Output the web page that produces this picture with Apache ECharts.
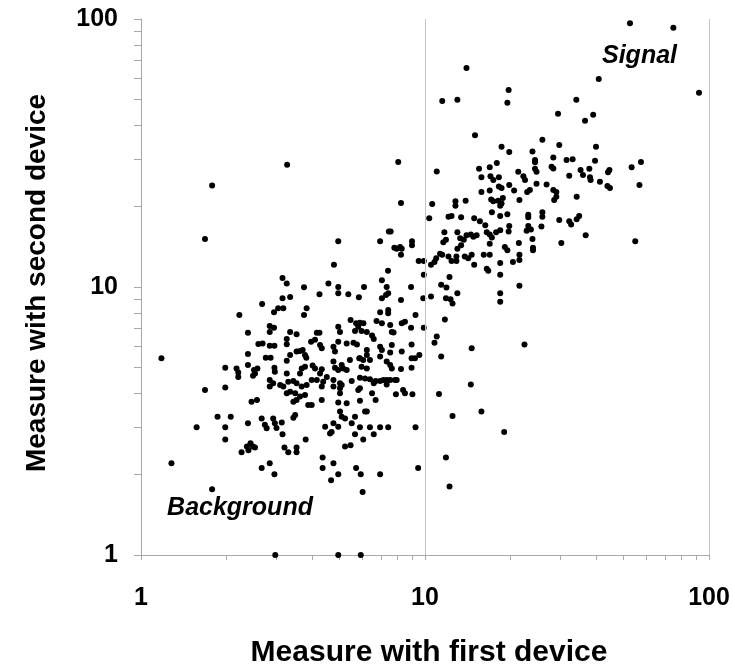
<!DOCTYPE html>
<html>
<head>
<meta charset="utf-8">
<script src="https://cdn.jsdelivr.net/npm/echarts@6/dist/echarts.min.js"></script>
<style>
html,body{margin:0;padding:0;background:#fff;}
#chart{width:735px;height:669px;}
</style>
</head>
<body>
<div id="chart"></div>
<script>
// Axis ticks and labels
const tickValues = [1,2,3,4,5,6,7,8,9,10,20,30,40,50,60,70,80,90,100];
const labelValues = [1,10,100];
const gridLineValues = [10,100];

// Points: [first device, second device]
const upperSparse = [
  [1.78,23.9],[3.27,28.6],[8.05,29.3],
  [14.0,65.6],[19.7,54.3],[11.5,49.4],[13.0,50.0],[19.5,48.7],[15.0,36.8],[18.6,33.4],[19.8,31.9],
  [11.0,27.0],[17.9,29.0],[16.9,28.0],[15.5,27.6],[15.8,25.7],[17.0,25.9],[17.4,25.1],[18.2,25.7],
  [18.2,23.7],[18.6,23.4],[15.8,22.6],[16.9,22.9],[19.8,24.0],[20.6,22.9],[21.3,26.9]
];
const signalTop = [
  [52.7,96.4],[74.9,92.8],[92.2,53.1],[40.9,59.7],[34.1,50.0],[29.4,44.3],[39.1,43.9],[36.6,41.7],
  [25.9,35.4],[29.7,33.9],[40.0,33.4],[23.9,32.0],[24.4,29.8],[24.4,29.2],[28.3,30.4],[31.5,29.8],
  [33.1,30.0],[39.7,29.6],[57.6,29.3],[53.4,28.0],[24.4,27.6],[24.7,26.9],[27.9,28.1],[28.3,27.7],
  [35.3,27.3],[36.0,26.2],[37.9,27.6],[38.1,25.7],[38.3,25.1],[32.2,26.0],[44.6,27.3],[44.1,26.8],
  [56.9,24.0],[41.3,24.7],[43.9,23.8],[44.8,23.4],[22.2,25.9],[22.5,25.1],[24.7,24.3],[26.8,24.1],
  [28.3,23.0],[29.0,22.6],[23.4,23.0],[22.9,22.6]
];
const signalRight = [
  [28.5,21.1],[29.0,21.7],[34.2,21.7],[23.1,18.6],[23.1,18.2],[25.9,19.0],[25.9,18.3],[29.7,17.8],
  [32.2,17.6],[32.7,17.1],[34.2,17.9],[34.9,18.4],[23.1,16.9],[22.8,16.2],[23.6,16.4],[25.7,16.8],
  [23.9,15.1],[24.0,14.0],[24.0,13.7],[36.8,15.6],[30.2,14.6],[55.0,14.8]
];
const leftMiddle = [
  [1.68,15.1],[1.18,5.42],[3.15,10.8],[3.26,10.3],[3.75,9.97],[4.25,9.39],[3.15,9.08],[3.35,9.18],
  [2.67,8.64],[3.04,8.33],[3.17,8.33],[2.94,8.05],[3.83,8.33],[3.75,7.86],[2.22,7.86],[2.84,7.15],
  [2.94,7.05],[2.38,6.75],[2.84,6.80],[3.35,6.80],[3.53,6.66],[4.16,6.75],[4.25,6.75],[3.26,6.40],
  [3.26,6.11],[2.59,6.13],[2.68,6.16],[2.84,6.04],[2.95,6.04],[3.97,6.25],[4.10,6.35],[4.27,6.08],
  [4.33,5.91],[2.38,5.62],[3.63,5.77],[3.71,5.82],[3.78,5.57],[3.82,5.45],[3.53,5.74],[3.35,5.57],
  [3.26,5.31],[2.75,5.45],[2.86,5.45],[2.38,5.12],[1.98,5.0],[2.17,4.97],[2.20,4.80],[2.50,4.90],
  [2.57,4.97],[2.52,4.76],[2.95,5.0],[2.96,4.83],[3.26,4.76],[3.68,4.97],[3.78,5.04],[3.63,4.76],
  [4.02,5.09],[4.10,4.97],[4.27,4.76],[4.33,4.93]
];
const centerUpper = [
  [8.23,20.6],[10.6,20.4],[12.8,20.9],[12.8,20.1],[13.9,21.0],[17.1,21.2],[17.4,20.9],[18.1,21.0],
  [18.8,21.5],[18.6,20.5],[18.4,20.1],[21.5,21.1],
  [10.35,18.05],[12.1,18.3],[12.4,18.4],[13.4,18.2],[14.9,18.05],[15.6,17.6],[16.3,17.0],[17.2,19.0],
  [18.4,18.4],[19.5,18.7],[19.8,16.9],
  [7.46,16.1],[7.57,16.1],[6.95,14.8],[4.95,14.8],[9.0,14.8],[9.0,14.3],[11.7,16.0],[11.85,15.0],
  [11.6,14.7],[13.0,16.0],[13.3,15.2],[14.0,15.6],[14.5,15.7],[14.8,15.4],[15.2,15.6],[13.7,15.0],
  [13.4,14.3],[13.0,13.9],[16.5,16.0],[16.9,15.7],[17.2,15.3],[17.8,16.0],[18.4,16.3],[19.7,16.1],
  [21.4,14.6],[16.9,14.5],[19.1,14.1],[19.5,13.7],
  [8.17,14.1],[8.28,13.9],[8.23,13.2],[7.8,14.0],[7.95,13.9],[4.78,12.1],[7.41,11.5],[9.5,12.5],
  [9.9,12.5],[9.9,11.1],[11.3,13.3],[11.5,13.2],[10.95,12.8],[10.8,12.4],[10.5,12.1],[12.1,13.0],
  [12.4,12.5],[12.9,13.0],[12.9,12.5],[13.8,13.0],[14.2,12.8],[14.6,13.2],[14.9,12.1],[16.1,13.2],
  [16.9,13.2],[16.5,11.7],[16.7,11.5],[18.4,12.3],[18.4,11.1],[20.4,12.4],[21.5,13.2],[21.5,12.6],
  [12.2,10.9]
];
const centerMiddle = [
  [4.57,10.3],[4.95,10.0],[4.95,9.47],[5.37,9.39],[5.85,9.15],[6.1,10.0],[7.05,10.6],[7.33,10.0],
  [7.42,9.47],[7.29,9.34],[7.05,9.08],[8.23,8.94],[8.93,10.0],[9.86,9.08],[10.5,9.21],[11.4,10.2],
  [11.9,9.95],[11.85,9.08],[12.3,9.0],[12.5,8.68],[13.0,9.47],[18.4,9.47],[18.4,8.81],[21.5,10.1],
  [6.95,8.05],[7.42,8.21],[7.42,7.98],[9.26,7.86],[5.47,7.53],[5.72,7.32],[5.9,7.36],[6.07,7.32],
  [5.82,7.10],[5.67,6.85],[5.98,6.85],[6.24,6.8],[6.51,6.59],[6.6,6.4],[6.75,7.47],[7.05,7.32],
  [7.54,7.22],[7.64,6.8],[7.75,6.77],[8.28,7.32],[8.5,7.42],[8.93,7.05],[9.9,7.05],[4.95,7.10],
  [5.02,6.80],[11.75,7.57],[11.0,6.53],[10.8,6.2],[14.6,5.91],[11.4,5.5],[22.4,6.1],
  [4.76,5.98],[4.82,5.74],[4.95,6.25],[5.3,6.16],[5.6,6.2],[5.76,6.1],[6.24,5.82],[6.24,5.57],
  [6.06,5.34],[5.87,5.42],[6.95,5.98],[7.05,5.82],[7.64,6.08],[7.54,5.7],[8.28,5.74],[8.97,6.1],
  [9.55,5.57],[8.97,5.42],[9.22,5.42],[6.95,5.5],[7.33,5.27],[7.54,5.12],[7.64,4.97],[8.23,4.94],
  [8.97,5.0],[4.76,5.27],[4.82,5.0],[4.95,4.9],[5.09,5.12],[5.15,4.97],[5.3,4.9],[5.44,5.34],
  [5.9,5.42],[5.98,5.04],[6.24,4.97],[6.4,5.34]
];
const leftLower = [
  [1.68,4.13],[1.98,4.22],[2.2,4.62],[2.48,4.66],[2.84,4.5],[2.84,4.25],[2.92,4.37],[3.09,4.31],
  [3.17,4.25],[3.30,4.43],[3.44,4.46],[3.53,4.37],[3.68,4.25],[3.83,4.31],[3.99,4.5],[4.16,4.5],
  [4.38,4.43],[2.45,3.73],[2.56,3.79],[3.26,4.01],[3.35,4.07],[3.49,4.01],[3.63,3.9],[3.78,3.95],
  [3.53,3.79],[3.44,3.73],[3.88,3.63],[3.99,3.63],[4.33,3.79],[3.49,3.33],[3.44,3.25],[1.86,3.28],
  [2.07,3.28],[1.57,3.0],[1.98,3.0],[1.98,2.70],[2.38,3.10],[2.66,3.23],[2.73,3.06],[2.77,2.97],
  [2.92,3.23],[2.96,3.1],[3.0,2.98],[3.13,3.12],[3.15,2.82],[2.26,2.42],[2.36,2.54],[2.39,2.46],
  [2.43,2.61],[2.48,2.54],[2.52,2.52],[3.2,2.52],[3.3,2.42],[3.53,2.52],[3.53,2.42],[3.8,2.70],
  [1.28,2.20],[2.66,2.11],[2.84,2.20],[2.95,2.0],[1.78,1.76],[2.97,1.0]
];
const centerLower = [
  [4.51,4.62],[4.76,4.5],[4.76,4.25],[5.02,4.37],[5.02,4.19],[5.02,4.01],[5.09,4.31],[5.52,4.46],
  [5.9,4.59],[5.9,4.19],[5.82,4.13],[6.15,4.56],[6.4,4.53],[6.6,4.37],[6.7,4.46],[6.95,4.46],
  [7.14,4.5],[7.33,4.5],[7.54,4.5],[7.84,4.5],[7.95,4.5],[7.33,4.33],[6.51,4.01],[6.7,3.79],
  [7.9,3.98],[8.37,4.13],[8.5,4.01],[9.03,3.98],[4.33,4.25],
  [4.95,3.71],[5.3,3.68],[5.9,3.76],[6.15,3.43],[6.24,3.43],[5.02,3.43],[5.09,3.28],[5.23,3.23],
  [5.67,3.28],[5.52,3.1],[4.45,3.01],[4.76,3.1],[4.95,3.01],[4.63,2.84],[4.69,2.88],[5.9,3.0],
  [6.4,3.0],[6.95,3.0],[7.42,3.0],[9.26,3.0],[5.67,2.82],[6.06,2.70],[6.6,2.82],[5.23,2.54],
  [5.47,2.57],
  [11.2,3.99],[14.5,4.33],[12.5,3.3],[15.8,3.43],[19.0,2.88],[11.85,2.31],[12.2,1.80],
  [4.36,2.31],[4.36,2.11],[4.76,2.2],[4.95,2.0],[4.67,1.9],[5.72,2.11],[5.94,2.0],[6.95,2.0],
  [9.46,2.11],[6.03,1.72],[4.95,1.0],[5.94,1.0]
];

const allPoints = [].concat(upperSparse, signalTop, signalRight, leftMiddle, centerUpper,
  centerMiddle, leftLower, centerLower);

const FONT = "'Liberation Sans', Arial, sans-serif";
const AXIS_COLOR = '#a8a8a8';
const GRID_COLOR = '#c4c4c4';

const chart = echarts.init(document.getElementById('chart'), null, {renderer: 'canvas'});
chart.setOption({
  animation: false,
  backgroundColor: '#ffffff',
  grid: {left: 141, right: 26, top: 19, bottom: 114, containLabel: false},
  xAxis: {
    type: 'log', logBase: 10, min: 1, max: 100,
    axisLine: {show: true, lineStyle: {color: AXIS_COLOR, width: 1}},
    axisTick: {show: true, customValues: tickValues, length: 5, inside: false,
      lineStyle: {color: AXIS_COLOR, width: 1}},
    axisLabel: {customValues: labelValues, margin: 31, color: '#000',
      fontFamily: FONT, fontWeight: 'bold', fontSize: 25},
    splitLine: {show: false},
    minorTick: {show: false}
  },
  yAxis: {
    type: 'log', logBase: 10, min: 1, max: 100,
    axisLine: {show: true, lineStyle: {color: AXIS_COLOR, width: 1}},
    axisTick: {show: true, customValues: tickValues, length: 7, inside: false,
      lineStyle: {color: AXIS_COLOR, width: 1}},
    axisLabel: {customValues: labelValues, margin: 23, color: '#000',
      fontFamily: FONT, fontWeight: 'bold', fontSize: 25},
    splitLine: {show: false}
  },
  series: [{
    type: 'scatter',
    data: allPoints,
    symbol: 'circle',
    symbolSize: 6,
    itemStyle: {color: '#000', opacity: 1},
    silent: true,
    markLine: {
      silent: true,
      symbol: ['none', 'none'],
      label: {show: false},
      lineStyle: {color: GRID_COLOR, width: 1, type: 'solid'},
      data: gridLineValues.map(v => ({xAxis: v}))
    },
    z: 3
  }],
  graphic: [
    {type: 'text', x: 429, y: 653, style: {text: 'Measure with first device', font: 'bold 30px ' + FONT,
      fill: '#000', textAlign: 'center', textVerticalAlign: 'middle'}},
    {type: 'text', x: 37, y: 283, rotation: Math.PI / 2, style: {text: 'Measure with second device',
      font: 'bold 28px ' + FONT, fill: '#000', textAlign: 'center', textVerticalAlign: 'middle'}},
    {type: 'text', x: 602, y: 56, style: {text: 'Signal', font: 'italic bold 25px ' + FONT,
      fill: '#000', textAlign: 'left', textVerticalAlign: 'middle'}},
    {type: 'text', x: 240, y: 508, style: {text: 'Background', font: 'italic bold 25px ' + FONT,
      fill: '#000', textAlign: 'center', textVerticalAlign: 'middle'}}
  ]
});
</script>
</body>
</html>
